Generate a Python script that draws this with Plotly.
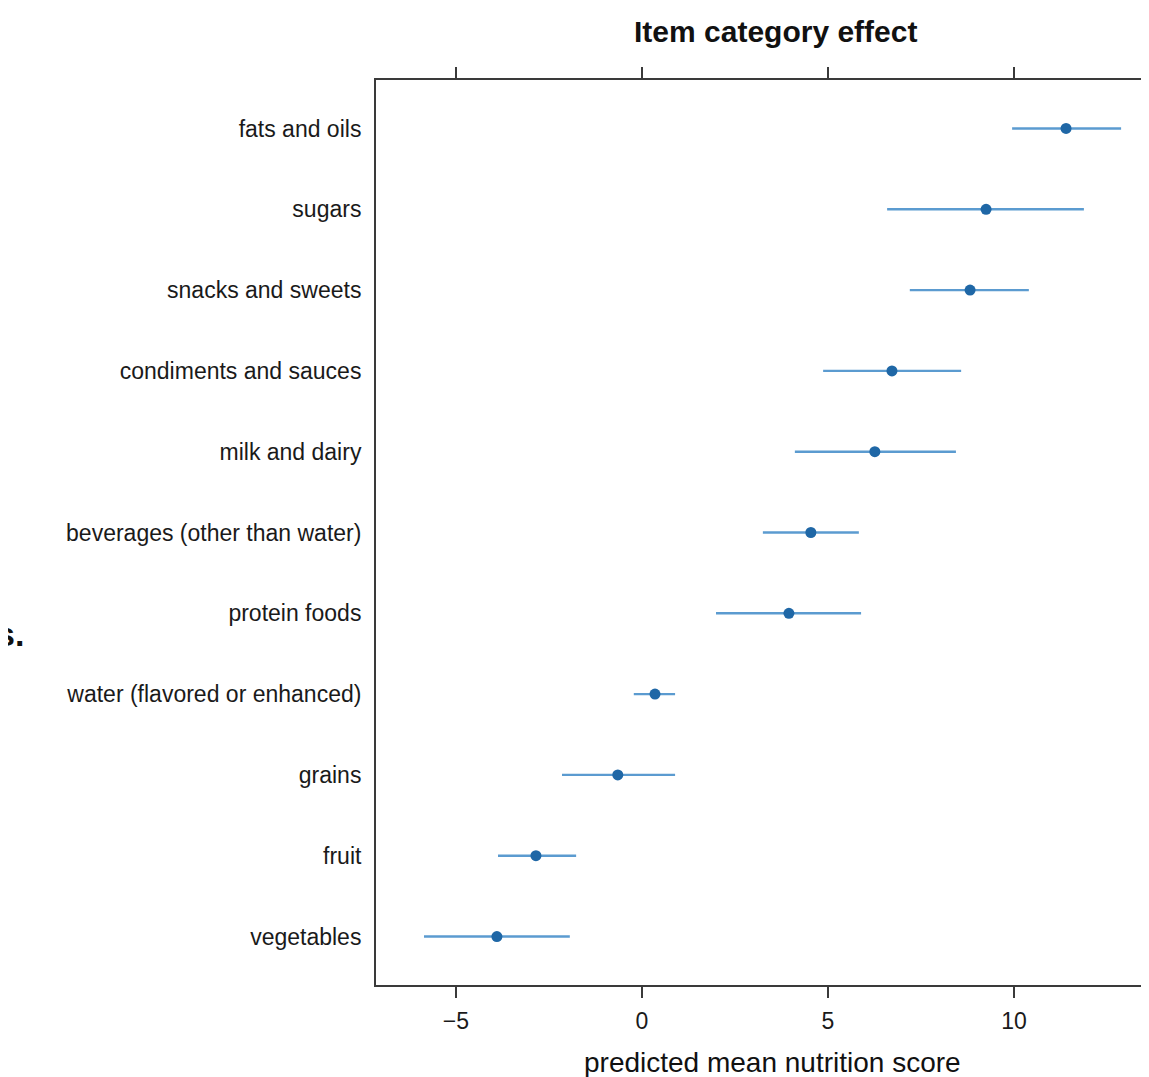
import plotly.graph_objects as go

categories = ["vegetables", "fruit", "grains", "water (flavored or enhanced)", "protein foods",
              "beverages (other than water)", "milk and dairy", "condiments and sauces",
              "snacks and sweets", "sugars", "fats and oils"]
estimate = [-3.9, -2.85, -0.65, 0.35, 3.95, 4.54, 6.26, 6.72, 8.82, 9.25, 11.4]
lower = [-5.86, -3.87, -2.15, -0.22, 1.99, 3.25, 4.11, 4.87, 7.2, 6.59, 9.95]
upper = [-1.94, -1.77, 0.89, 0.89, 5.89, 5.83, 8.44, 8.58, 10.4, 11.88, 12.88]
x_ticks = [-5, 0, 5, 10]

err_plus = [u - e for u, e in zip(upper, estimate)]
err_minus = [e - l for e, l in zip(estimate, lower)]

OFF = 8  # page body margin
W, H = 1149 - OFF, 1077 - OFF
ml, mt = 376 - OFF, 80 - OFF
mb = H - (985 - OFF)
mr = 0
ph = H - mt - mb
pw = W - ml - mr

fig = go.Figure()
fig.add_trace(go.Scatter(
    x=estimate, y=categories, mode="markers",
    marker=dict(color="#1f67a6", size=11),
    error_x=dict(type="data", symmetric=False, array=err_plus, arrayminus=err_minus,
                 color="#5b9bd0", thickness=2.4, width=0),
    showlegend=False, hoverinfo="x+y",
))

font_family = "Liberation Sans, Arial, Helvetica, sans-serif"

def py(page_y):
    """page pixel y -> paper y"""
    return 1 - (page_y - OFF - mt) / ph

def px(page_x):
    return (page_x - OFF - ml) / pw

fig.update_layout(
    width=W, height=H,
    margin=dict(l=ml, r=mr, t=mt, b=mb),
    plot_bgcolor="white", paper_bgcolor="white",
    font=dict(family=font_family, color="#1a1a1a", size=24),
    xaxis=dict(
        range=[-7.15, 13.63], tickvals=x_ticks, ticktext=["\u22125", "0", "5", "10"],
        showline=True, linecolor="#3a3a3a", linewidth=2, mirror="ticks",
        ticks="outside", ticklen=11, tickwidth=2, tickcolor="#3a3a3a",
        showgrid=False, zeroline=False, tickfont=dict(size=23),
        ticklabelstandoff=3,
    ),
    yaxis=dict(
        type="category", categoryorder="array", categoryarray=categories,
        range=[-0.6, 10.6],
        showline=True, linecolor="#3a3a3a", linewidth=2, mirror=False,
        ticks="", showgrid=False, zeroline=False, tickfont=dict(size=23),
        ticklabelstandoff=8,
    ),
    annotations=[
        dict(text="<b>Item category effect</b>", xref="paper", yref="paper",
             x=px(775), y=py(32), xanchor="center", yanchor="middle",
             showarrow=False, font=dict(size=30, family=font_family, color="#111")),
        dict(text="predicted mean nutrition score", xref="paper", yref="paper",
             x=px(772), y=py(1062), xanchor="center", yanchor="middle",
             showarrow=False, font=dict(size=28, family=font_family, color="#111")),
        dict(text="<b>s.</b>", xref="paper", yref="paper",
             x=px(-6), y=py(634), xanchor="left", yanchor="middle",
             showarrow=False, font=dict(size=34, family=font_family, color="#111")),
    ],
)

fig.write_html("out.html")
